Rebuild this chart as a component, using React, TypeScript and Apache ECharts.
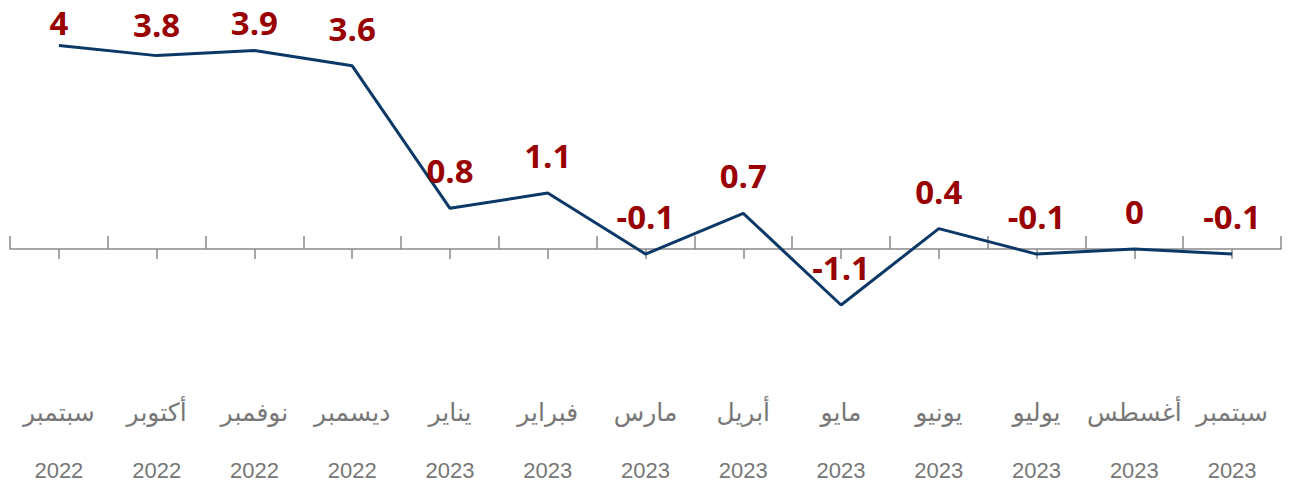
import React, { useEffect, useRef } from "react";
import * as echarts from "echarts";

const months = ["سبتمبر", "أكتوبر", "نوفمبر", "ديسمبر", "يناير", "فبراير", "مارس", "أبريل", "مايو", "يونيو", "يوليو", "أغسطس", "سبتمبر"];
const years = ["2022", "2022", "2022", "2022", "2023", "2023", "2023", "2023", "2023", "2023", "2023", "2023", "2023"];
const values = [4, 3.8, 3.9, 3.6, 0.8, 1.1, -0.1, 0.7, -1.1, 0.4, -0.1, 0, -0.1];
const labelDistances = [6, 15, 11, 21, 21, 21, 21, 21, 21, 21, 21, 21, 21];

export default function App() {
  const ref = useRef<HTMLDivElement>(null);
  useEffect(() => {
    if (!ref.current) return;
    const chart = echarts.init(ref.current, null, { renderer: "svg" });
    const categories = months.map((m, i) => "{m|" + m + "}\n{y|" + years[i] + "}");
    chart.setOption({
      animation: false,
      grid: { left: 10, right: 10, top: 20, bottom: 239, containLabel: false, outerBoundsMode: "none" },
      xAxis: [
        {
          type: "category",
          data: categories,
          boundaryGap: true,
          axisLine: { show: true, onZero: false, lineStyle: { color: "#8a8a8a", width: 1.5 } },
          axisTick: { show: true, inside: true, length: 13, alignWithLabel: false, lineStyle: { color: "#8a8a8a", width: 1.5 } },
          axisLabel: {
            margin: 134,
            color: "#777777",
            fontSize: 22,
            lineHeight: 58,
            fontFamily: "'Liberation Sans', 'DejaVu Sans', sans-serif",
            interval: 0,
            hideOverlap: false,
            rich: {
              m: { fontSize: 25, lineHeight: 58, color: "#777777", fontFamily: "'DejaVu Sans', sans-serif" },
              y: { fontSize: 22, lineHeight: 58, color: "#777777", fontFamily: "'Liberation Sans', sans-serif" },
            },
          },
          splitLine: { show: false },
        },
        {
          type: "category",
          data: categories,
          boundaryGap: true,
          position: "bottom",
          axisLine: { show: false, onZero: false },
          axisTick: { show: true, inside: false, length: 10, alignWithLabel: true, lineStyle: { color: "#8a8a8a", width: 1.5 } },
          axisLabel: { show: false },
          splitLine: { show: false },
        },
      ],
      yAxis: {
        type: "value",
        min: 0,
        max: 4.5,
        show: false,
        splitLine: { show: false },
      },
      series: [
        {
          type: "line",
          xAxisIndex: 0,
          clip: false,
          data: values.map((v, i) => ({ value: v, label: { distance: labelDistances[i] } })),
          symbol: "circle",
          symbolSize: 0.1,
          showSymbol: true,
          itemStyle: { color: "#0b3866" },
          lineStyle: { color: "#0b3866", width: 3 },
          label: {
            show: true,
            position: "top",
            color: "#990000",
            fontSize: 33,
            fontWeight: "bold",
            fontFamily: "'Open Sans', sans-serif",
          },
        },
      ],
    });
    return () => chart.dispose();
  }, []);
  return <div ref={ref} style={{ position: "absolute", left: 0, top: 0, width: 1291, height: 488, background: "#fff" }} />;
}
